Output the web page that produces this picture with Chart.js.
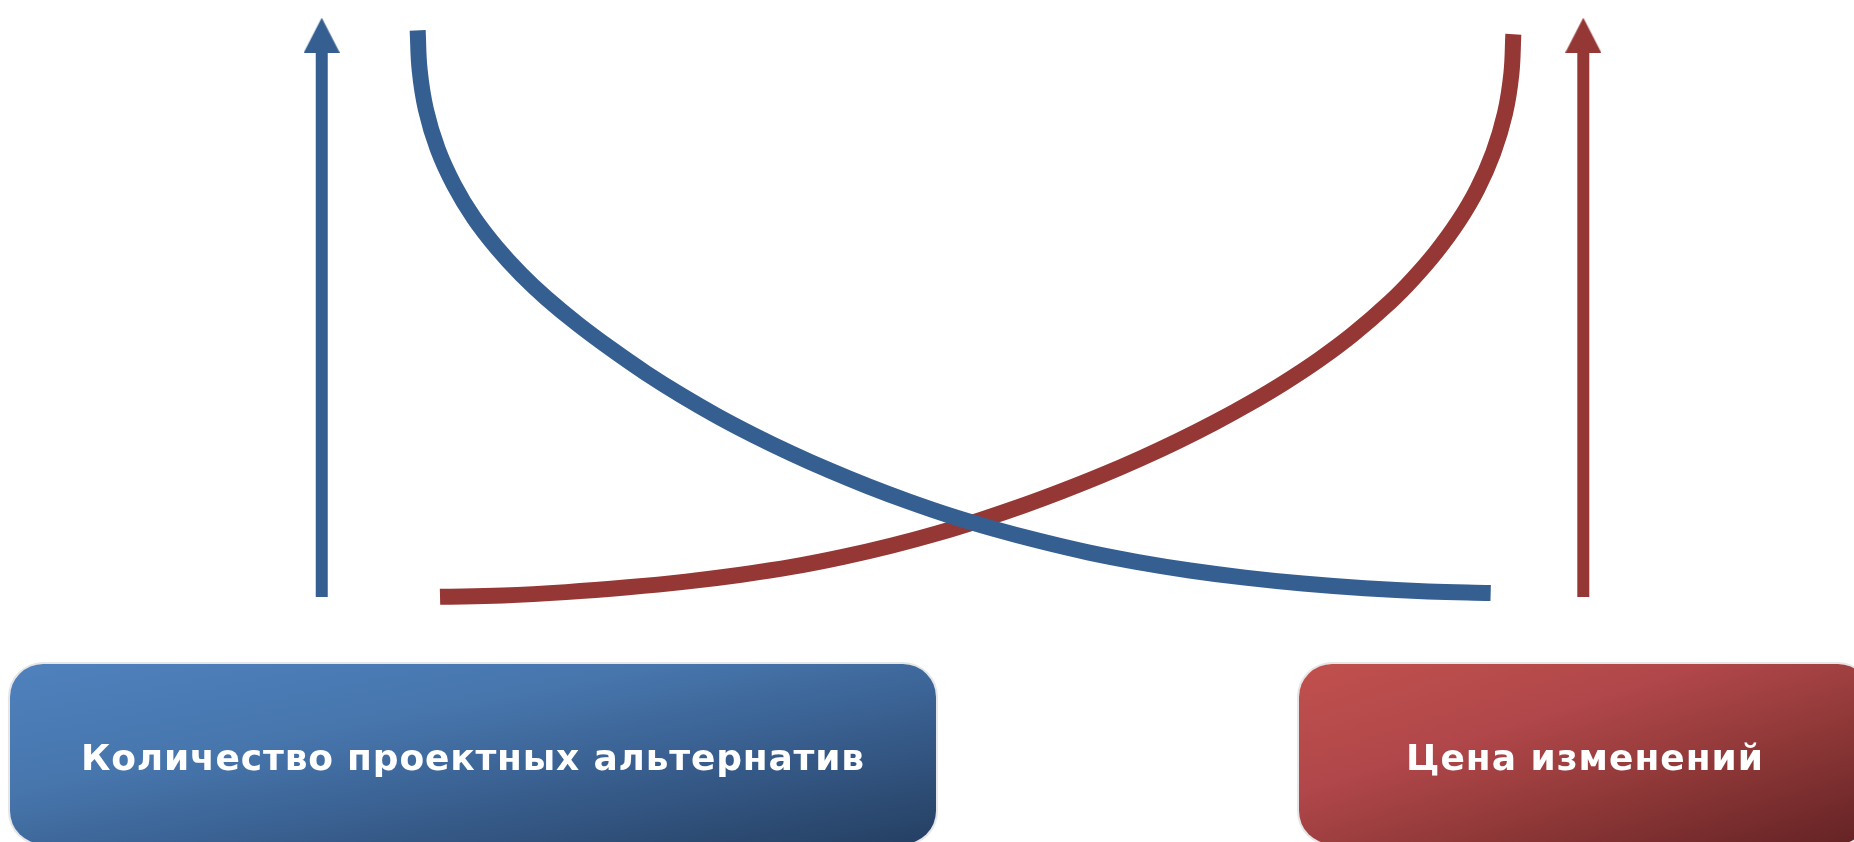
<!DOCTYPE html>
<html lang="ru">
<head>
<meta charset="utf-8">
<title>Количество проектных альтернатив и цена изменений</title>
<script src="https://cdn.jsdelivr.net/npm/chart.js@4.4.1/dist/chart.umd.min.js"></script>
<style>
  html, body { margin: 0; padding: 0; background: #fff; overflow: hidden; }
  #wrap { position: relative; width: 1854px; height: 842px; }
  #curves { position: absolute; left: 0; top: 0; }
  .label {
    position: absolute;
    top: 664px;
    height: 180px;
    box-sizing: border-box;
    padding-top: 6px;
    border-radius: 33px;
    display: flex;
    align-items: center;
    justify-content: center;
    color: #fff;
    font-family: "DejaVu Sans", sans-serif;
    font-weight: bold;
    font-size: 36px;
    white-space: nowrap;
    box-shadow: 0 0 0 2px #e6e6e6;
  }
  #label-alt {
    left: 10px;
    width: 926px;
    background: linear-gradient(to bottom right, #4f81bd 0%, #4776ad 35%, #3a6192 60%, #253f62 100%);
  }
  #label-cost {
    left: 1299px;
    width: 572px;
    background: linear-gradient(to bottom right, #c0504d 0%, #b1474a 35%, #943a3a 60%, #632224 100%);
  }
</style>
</head>
<body>
<div id="wrap">
  <canvas id="curves" width="1854" height="842"></canvas>
  <div class="label" id="label-alt"><span>Количество проектных альтернатив</span></div>
  <div class="label" id="label-cost"><span>Цена изменений</span></div>
</div>
<script>
// -----------------------------
// Data (x: project time 0..100, y: level 0..100)
// -----------------------------
// Number of design alternatives (falling curve)
const alternativesX = [-0.03, 0.15, 0.72, 1.80, 3.31, 5.11, 7.19, 9.42, 11.72, 14.61, 17.72, 20.82, 24.02, 27.31, 30.68, 34.06, 37.53, 41.10, 44.75, 48.58, 52.60, 56.80, 61.19, 65.75, 70.50, 75.53, 80.82, 86.48, 92.24, 97.96];
const alternativesY = [99.95, 92.97, 85.99, 79.01, 72.60, 66.84, 61.61, 56.89, 52.71, 48.10, 43.63, 39.49, 35.60, 31.94, 28.52, 25.36, 22.36, 19.53, 16.88, 14.35, 12.02, 9.86, 7.87, 6.16, 4.68, 3.42, 2.37, 1.54, 0.98, 0.70];

// Cost of changes (rising curve)
const costX = [2.01, 7.76, 13.52, 19.18, 24.47, 29.50, 34.25, 38.81, 43.20, 47.40, 51.42, 55.25, 58.90, 62.47, 65.94, 69.32, 72.69, 75.98, 79.18, 82.28, 85.39, 88.77, 90.91, 93.01, 94.98, 96.73, 98.19, 99.27, 99.85, 100.03];
const costY = [0.03, 0.28, 0.86, 1.71, 2.72, 3.93, 5.34, 7.07, 9.04, 11.22, 13.61, 16.11, 18.73, 21.48, 24.38, 27.42, 30.70, 34.19, 37.89, 41.85, 46.34, 52.01, 56.20, 60.91, 66.14, 71.90, 78.31, 85.29, 92.27, 99.25];

// Vertical arrows on both sides
const arrowX = [-8.79, 106.42];
const arrowY = [0, 99.09];

const blue = "#365f91";
const red = "#953735";

function toPoints(xs, ys) {
  return xs.map((x, i) => ({ x: x, y: ys[i] }));
}

function arrowHead(color) {
  const c = document.createElement("canvas");
  c.width = 36;
  c.height = 35;
  const g = c.getContext("2d");
  g.fillStyle = color;
  g.beginPath();
  g.moveTo(18, 0);
  g.lineTo(36, 35);
  g.lineTo(0, 35);
  g.closePath();
  g.fill();
  return c;
}

function arrowDataset(x, color) {
  return {
    data: arrowY.map(y => ({ x: x, y: y })),
    borderColor: color,
    backgroundColor: color,
    borderWidth: 12,
    tension: 0,
    clip: false,
    pointRadius: [0, 18],
    pointStyle: ["circle", arrowHead(color)]
  };
}

const ctx = document.getElementById("curves").getContext("2d");
const chart = new Chart(ctx, {
  type: "line",
  data: {
    datasets: [
      {
        label: "Количество проектных альтернатив",
        data: toPoints(alternativesX, alternativesY),
        borderColor: blue,
        borderWidth: 16,
        tension: 0.4,
        clip: false,
        pointRadius: 0
      },
      {
        label: "Цена изменений",
        data: toPoints(costX, costY),
        borderColor: red,
        borderWidth: 16,
        tension: 0.4,
        clip: false,
        pointRadius: 0
      },
      arrowDataset(arrowX[0], blue),
      arrowDataset(arrowX[1], red)
    ]
  },
  options: {
    animation: false,
    responsive: false,
    elements: { line: { capBezierPoints: false } },
    layout: { padding: { left: 308.5, right: 231.5, top: 24, bottom: 245 } },
    scales: {
      x: { type: "linear", min: -10, max: 110, display: false },
      y: { type: "linear", min: 0, max: 100, display: false }
    },
    plugins: {
      legend: { display: false },
      tooltip: { enabled: false }
    }
  }
});

// -----------------------------
// Labels: stretch letter spacing to the reference width
// -----------------------------
function fitLabel(id, targetWidth) {
  const span = document.querySelector("#" + id + " span");
  const natural = span.getBoundingClientRect().width;
  const n = span.textContent.length;
  span.style.letterSpacing = ((targetWidth - natural) / n).toFixed(2) + "px";
}

fitLabel("label-alt", 784);
fitLabel("label-cost", 358);
</script>
</body>
</html>
